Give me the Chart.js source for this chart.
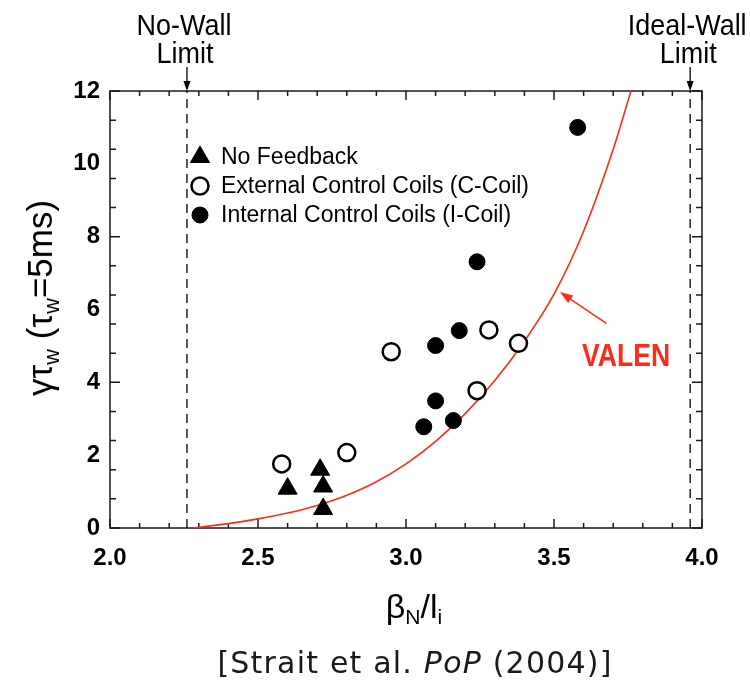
<!DOCTYPE html>
<html>
<head>
<meta charset="utf-8">
<title>RWM growth rate vs beta_N / l_i</title>
<script src="https://cdn.jsdelivr.net/npm/chart.js@4.4.1/dist/chart.umd.min.js"></script>
<style>
  html, body { margin: 0; padding: 0; background: #fff; }
  #wrap { position: relative; width: 750px; height: 682px; overflow: hidden; }
  #chart { position: absolute; left: 0; top: 0; }
  .ttl { position: absolute; white-space: nowrap; color: #000; font-family: 'Liberation Sans', Arial, Helvetica, sans-serif; }
  .ttl sub { font-size: 62%; vertical-align: -0.32em; line-height: 0; }
  #ytitle { left: 40px; top: 298px; font-size: 35px; transform: translate(-50%, -50%) rotate(-90deg); }
  #xtitle { left: 414px; top: 606px; font-size: 34px; transform: translate(-50%, -50%); }
  #cite { left: 415px; top: 662px; font-size: 30px; color: #1a1a1a; font-family: 'DejaVu Sans', sans-serif; letter-spacing: 1.2px; transform: translate(-50%, -50%); }
</style>
</head>
<body>
<div id="wrap">
  <canvas id="chart" width="750" height="682"></canvas>
  <div class="ttl" id="ytitle">γτ<sub>w</sub> (τ<sub>w</sub>=5ms)</div>
  <div class="ttl" id="xtitle">β<sub>N</sub>/l<sub>i</sub></div>
  <div class="ttl" id="cite">[Strait et al. <i>PoP</i> (2004)]</div>
</div>
<script>
// axis ranges and tick labels
const xRange = [2.0, 4.0];
const yRange = [0, 12];
const xTickLabels = ['2.0', '2.5', '3.0', '3.5', '4.0'];
const yTickLabels = ['0', '2', '4', '6', '8', '10', '12'];

// measured growth rate (gamma * tau_w) against beta_N / l_i
const noFeedbackX = [2.71, 2.72, 2.60, 2.72];
const noFeedbackY = [1.60, 1.14, 1.08, 0.52];
const cCoilX = [2.58, 2.80, 2.95, 3.24, 3.28, 3.38];
const cCoilY = [1.76, 2.07, 4.84, 3.77, 5.44, 5.07];
const iCoilX = [3.06, 3.10, 3.10, 3.16, 3.18, 3.24, 3.58];
const iCoilY = [2.78, 3.49, 5.01, 2.95, 5.42, 7.31, 11.0];

// VALEN prediction curve
const valenX = [2.28, 2.40, 2.50, 2.60, 2.70, 2.80, 2.90, 3.00, 3.10, 3.20, 3.30, 3.40, 3.50, 3.60, 3.70, 3.76];
const valenY = [0.00, 0.12, 0.25, 0.41, 0.62, 0.90, 1.27, 1.76, 2.38, 3.14, 4.05, 5.13, 6.42, 8.15, 10.40, 12.0];

// wall limits
const noWallLimit = 2.26;
const idealWallLimit = 3.96;

const legendNames = ['No Feedback', 'External Control Coils (C-Coil)', 'Internal Control Coils (I-Coil)'];

const FONT = "'Liberation Sans', Arial, Helvetica, sans-serif";
const RED = '#ff2a17';

const pts = (xs, ys) => xs.map((x, i) => ({ x: x, y: ys[i] }));
const vline = x => [{ x: x, y: yRange[0] }, { x: x, y: yRange[1] }];

function marker(ctx, style, filled, x, y, r) {
    ctx.save();
    ctx.beginPath();
    if (style === 'triangle') {
        let a = 0;
        for (let k = 0; k < 3; k++) {
            const px = x + Math.sin(a) * r, py = y - Math.cos(a) * r;
            k ? ctx.lineTo(px, py) : ctx.moveTo(px, py);
            a += Math.PI * 2 / 3;
        }
        ctx.closePath();
    } else {
        ctx.arc(x, y, r, 0, Math.PI * 2);
    }
    ctx.fillStyle = filled ? '#000' : '#fff';
    ctx.fill();
    ctx.lineWidth = filled ? 1 : 2.5;
    ctx.strokeStyle = '#000';
    ctx.stroke();
    ctx.restore();
}

function arrowHead(ctx, x0, y0, x1, y1, len, half) {
    const a = Math.atan2(y1 - y0, x1 - x0);
    ctx.beginPath();
    ctx.moveTo(x1, y1);
    ctx.lineTo(x1 - len * Math.cos(a) + half * Math.sin(a), y1 - len * Math.sin(a) - half * Math.cos(a));
    ctx.lineTo(x1 - len * Math.cos(a) - half * Math.sin(a), y1 - len * Math.sin(a) + half * Math.cos(a));
    ctx.closePath();
    ctx.fill();
}

// narrow text: same font squeezed horizontally
function squeezedText(ctx, text, x, y, sx) {
    ctx.save();
    ctx.translate(x, y);
    ctx.scale(sx, 1);
    ctx.fillText(text, 0, 0);
    ctx.restore();
}

// box around the plot with inward tick marks on all four sides
const framePlugin = {
    id: 'frame',
    beforeDatasetsDraw(chart) {
        const { ctx, chartArea: a, scales: { x, y } } = chart;
        ctx.save();
        ctx.strokeStyle = '#1a1a1a';
        ctx.lineWidth = 1.5;
        ctx.strokeRect(a.left, a.top, a.right - a.left, a.bottom - a.top);
        ctx.beginPath();
        for (let i = 0; i <= 20; i++) {
            const px = x.getPixelForValue(xRange[0] + i * 0.1);
            const len = i % 5 === 0 ? 9 : 5;
            ctx.moveTo(px, a.bottom); ctx.lineTo(px, a.bottom - len);
            ctx.moveTo(px, a.top); ctx.lineTo(px, a.top + len);
        }
        for (let i = 0; i <= 15; i++) {
            const py = y.getPixelForValue(yRange[0] + i * (yRange[1] - yRange[0]) / 15);
            const len = i % 5 === 0 ? 10 : 6;
            ctx.moveTo(a.left, py); ctx.lineTo(a.left + len, py);
            ctx.moveTo(a.right, py); ctx.lineTo(a.right - len, py);
        }
        ctx.stroke();
        ctx.restore();
    }
};

// wall-limit captions, VALEN callout and the legend
const notesPlugin = {
    id: 'notes',
    afterDraw(chart) {
        const { ctx, chartArea: a, scales: { x, y } } = chart;
        ctx.save();

        // limit captions with arrows pointing at the dashed lines
        ctx.fillStyle = '#000';
        ctx.strokeStyle = '#000';
        ctx.font = '29px ' + FONT;
        ctx.textAlign = 'center';
        ctx.textBaseline = 'alphabetic';
        [[noWallLimit, 'No-Wall'], [idealWallLimit, 'Ideal-Wall']].forEach(([v, name]) => {
            const px = x.getPixelForValue(v);
            squeezedText(ctx, name, px - 3, 35, 0.93);
            squeezedText(ctx, 'Limit', px - 2, 63, 0.93);
            ctx.lineWidth = 1.3;
            ctx.beginPath(); ctx.moveTo(px, 67); ctx.lineTo(px, a.top - 4); ctx.stroke();
            arrowHead(ctx, px, 67, px, a.top, 10, 3.5);
        });

        // VALEN label and arrow to the curve
        ctx.fillStyle = RED;
        ctx.strokeStyle = RED;
        ctx.lineWidth = 1.5;
        const tx = x.getPixelForValue(3.677), ty = y.getPixelForValue(5.62);
        const hx = x.getPixelForValue(3.52), hy = y.getPixelForValue(6.48);
        ctx.beginPath(); ctx.moveTo(tx, ty); ctx.lineTo(hx + 6, hy + 4); ctx.stroke();
        arrowHead(ctx, tx, ty, hx, hy, 13, 4.5);
        ctx.font = 'bold 32px ' + FONT;
        ctx.textAlign = 'left';
        squeezedText(ctx, 'VALEN', x.getPixelForValue(3.595), y.getPixelForValue(4.44), 0.83);

        // legend
        const styles = [['triangle', true, 11], ['circle', false, 8.5], ['circle', true, 8]];
        const rows = [157, 186, 215];
        ctx.font = '23px ' + FONT;
        legendNames.forEach((name, i) => {
            const [st, filled, r] = styles[i];
            marker(ctx, st, filled, 200, rows[i], r);
            ctx.fillStyle = '#000';
            ctx.textBaseline = 'middle';
            ctx.fillText(name, 221, rows[i] + 1);
        });
        ctx.restore();
    }
};

const chart = new Chart(document.getElementById('chart'), {
    type: 'scatter',
    data: {
        datasets: [
            {
                label: legendNames[0], data: pts(noFeedbackX, noFeedbackY),
                pointStyle: 'triangle', pointRadius: 11, backgroundColor: '#000', borderColor: '#000', borderWidth: 1
            },
            {
                label: legendNames[1], data: pts(cCoilX, cCoilY),
                pointStyle: 'circle', pointRadius: 8.5, backgroundColor: '#fff', borderColor: '#000', borderWidth: 2.5
            },
            {
                label: legendNames[2], data: pts(iCoilX, iCoilY),
                pointStyle: 'circle', pointRadius: 8, backgroundColor: '#000', borderColor: '#000', borderWidth: 1
            },
            {
                label: 'VALEN', data: pts(valenX, valenY), showLine: true,
                borderColor: RED, borderWidth: 1.6, pointRadius: 0, cubicInterpolationMode: 'monotone'
            },
            {
                label: 'No-Wall Limit', data: vline(noWallLimit), showLine: true,
                borderColor: '#000', borderWidth: 1.3, borderDash: [9, 6], pointRadius: 0
            },
            {
                label: 'Ideal-Wall Limit', data: vline(idealWallLimit), showLine: true,
                borderColor: '#000', borderWidth: 1.3, borderDash: [9, 6], pointRadius: 0
            }
        ]
    },
    options: {
        responsive: false,
        animation: false,
        devicePixelRatio: 1,
        layout: { padding: { left: 0, top: 91, right: 48, bottom: 0 } },
        plugins: { legend: { display: false }, tooltip: { enabled: false } },
        scales: {
            x: {
                type: 'linear', min: xRange[0], max: xRange[1],
                afterBuildTicks: s => { s.ticks = xTickLabels.map(t => ({ value: Number(t) })); },
                afterFit: s => { s.height = 154; },
                grid: { display: false, drawTicks: false },
                border: { display: false },
                ticks: {
                    autoSkip: false, maxRotation: 0, padding: 16, color: '#000',
                    font: { family: FONT, size: 24, weight: 'bold' },
                    callback: (v, i) => xTickLabels[i]
                }
            },
            y: {
                type: 'linear', min: yRange[0], max: yRange[1],
                afterBuildTicks: s => { s.ticks = yTickLabels.map(t => ({ value: Number(t) })); },
                afterFit: s => { s.width = 110; },
                grid: { display: false, drawTicks: false },
                border: { display: false },
                ticks: {
                    autoSkip: false, padding: 10, color: '#000',
                    font: { family: FONT, size: 24, weight: 'bold' },
                    callback: (v, i) => yTickLabels[i]
                }
            }
        }
    },
    plugins: [framePlugin, notesPlugin]
});
</script>
</body>
</html>
